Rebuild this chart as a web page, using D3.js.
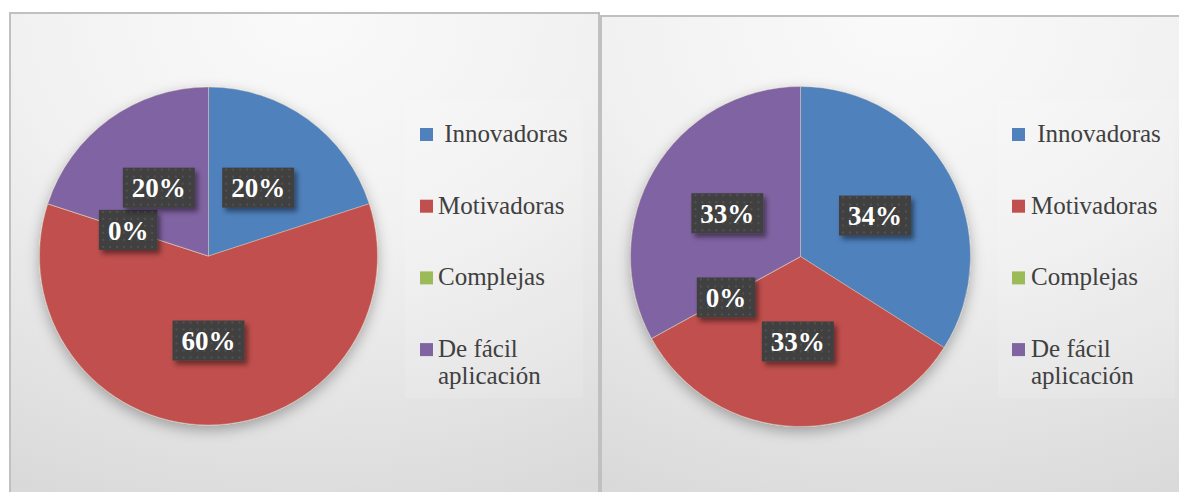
<!DOCTYPE html>
<html><head><meta charset="utf-8">
<script src="https://cdn.jsdelivr.net/npm/d3@7"></script>
<style>html,body{margin:0;padding:0;background:#fff;}svg{display:block;}</style>
</head><body>
<svg id="c" width="1179" height="492"></svg>
<script>
const categories = [" Innovadoras", "Motivadoras", "Complejas", "De fácil aplicación"];
const colors = ["#4f81bd", "#c0504d", "#9bbb59", "#8064a2"];
const valuesLeft = [20, 60, 0, 20];
const valuesRight = [34, 33, 0, 33];

const FONT = "Liberation Serif, Times New Roman, DejaVu Serif, serif";
const svg = d3.select("#c");
const defs = svg.append("defs");

const bg = defs.append("radialGradient").attr("id","bg").attr("cx","50%").attr("cy","0%").attr("r","110%");
bg.append("stop").attr("offset","0%").attr("stop-color","#fafafa");
bg.append("stop").attr("offset","45%").attr("stop-color","#f1f1f1");
bg.append("stop").attr("offset","100%").attr("stop-color","#d9d9d9");

const pieShadow = defs.append("filter").attr("id","pshadow").attr("x","-20%").attr("y","-20%").attr("width","140%").attr("height","150%");
pieShadow.append("feDropShadow").attr("dx",0).attr("dy",5).attr("stdDeviation",7).attr("flood-color","#000").attr("flood-opacity",0.3);

const boxShadow = defs.append("filter").attr("id","bshadow").attr("x","-20%").attr("y","-20%").attr("width","150%").attr("height","160%");
boxShadow.append("feDropShadow").attr("dx",3).attr("dy",4).attr("stdDeviation",2.5).attr("flood-color","#000").attr("flood-opacity",0.45);

const pat = defs.append("pattern").attr("id","dots").attr("patternUnits","userSpaceOnUse").attr("width",7).attr("height",7);
pat.append("rect").attr("width",7).attr("height",7).attr("fill","#404040");
pat.append("rect").attr("x",2).attr("y",2).attr("width",2).attr("height",2).attr("fill","#515151");

function panel(opt){
  const g = svg.append("g");
  g.append("rect").attr("x",opt.x).attr("y",opt.y).attr("width",opt.w).attr("height",opt.h)
    .attr("fill","url(#bg)").attr("stroke","#c0c0c0").attr("stroke-width",2);

  g.append("rect").attr("x",opt.lx).attr("y",100).attr("width",opt.lw).attr("height",298)
    .attr("fill","#ffffff").attr("fill-opacity",0.12);

  const pie = d3.pie().sort(null).value(d=>d);
  const arcs = pie(opt.values);
  const arc = d3.arc().innerRadius(0).outerRadius(opt.r);
  const pg = g.append("g").attr("transform",`translate(${opt.cx},${opt.cy})`);
  pg.append("g").attr("filter","url(#pshadow)").selectAll("path").data(arcs).join("path")
    .attr("d",arc).attr("fill",(d,i)=>colors[i])
    .attr("stroke","#e8d8c0").attr("stroke-width",0.6).attr("stroke-opacity",0.7);

  const total = d3.sum(opt.values);
  const lab = pg.selectAll("g.lab").data(arcs).join("g").attr("class","lab")
    .attr("transform",d=>{const c=arc.centroid(d);return `translate(${c[0]},${c[1]})`;});
  lab.each(function(d){
    const gg = d3.select(this);
    const t = gg.append("text").text(Math.round(d.data/total*100)+"%")
      .attr("text-anchor","middle").attr("dy","0.36em")
      .style("font-family",FONT).attr("font-weight","bold")
      .attr("font-size",27).attr("fill","#fff");
    const w = t.node().getComputedTextLength()+18;
    gg.insert("rect","text").attr("x",-w/2).attr("y",-20).attr("width",w).attr("height",40)
      .attr("fill","url(#dots)").attr("filter","url(#bshadow)");
  });

  const lg = g.append("g");
  categories.forEach((c,i)=>{
    const y = 128 + i*71.7;
    lg.append("rect").attr("x",opt.sx).attr("y",y).attr("width",13).attr("height",13).attr("fill",colors[i]);
    const t = lg.append("text").attr("x",opt.tx).attr("y",y+14)
      .style("font-family",FONT).attr("font-size",25).attr("fill","#404040")
      .style("white-space","pre");
    let lines=[], cur="";
    const lead = c.startsWith(" ");
    const ws = c.trim().split(" ");
    const tmp = lg.append("text").style("font-family",FONT).attr("font-size",25).style("white-space","pre");
    ws.forEach(w=>{
      const test = cur? cur+" "+w : w;
      tmp.text(test);
      if(tmp.node().getComputedTextLength()>opt.maxW && cur){lines.push(cur);cur=w;} else cur=test;
    });
    lines.push(cur);
    tmp.remove();
    lines.forEach((ln,k)=>{
      t.append("tspan").attr("x",opt.tx).attr("dy",k?27:0).text((lead&&k===0?" ":"")+ln);
    });
  });
}

panel({x:10,y:13,w:589,h:482,cx:208.5,cy:256,r:169,values:valuesLeft,lx:405,lw:178,sx:420,tx:438,maxW:140});
panel({x:601,y:16,w:600,h:480,cx:800.5,cy:256.5,r:170,values:valuesRight,lx:998,lw:177,sx:1012,tx:1031,maxW:140});
</script>
</body></html>
